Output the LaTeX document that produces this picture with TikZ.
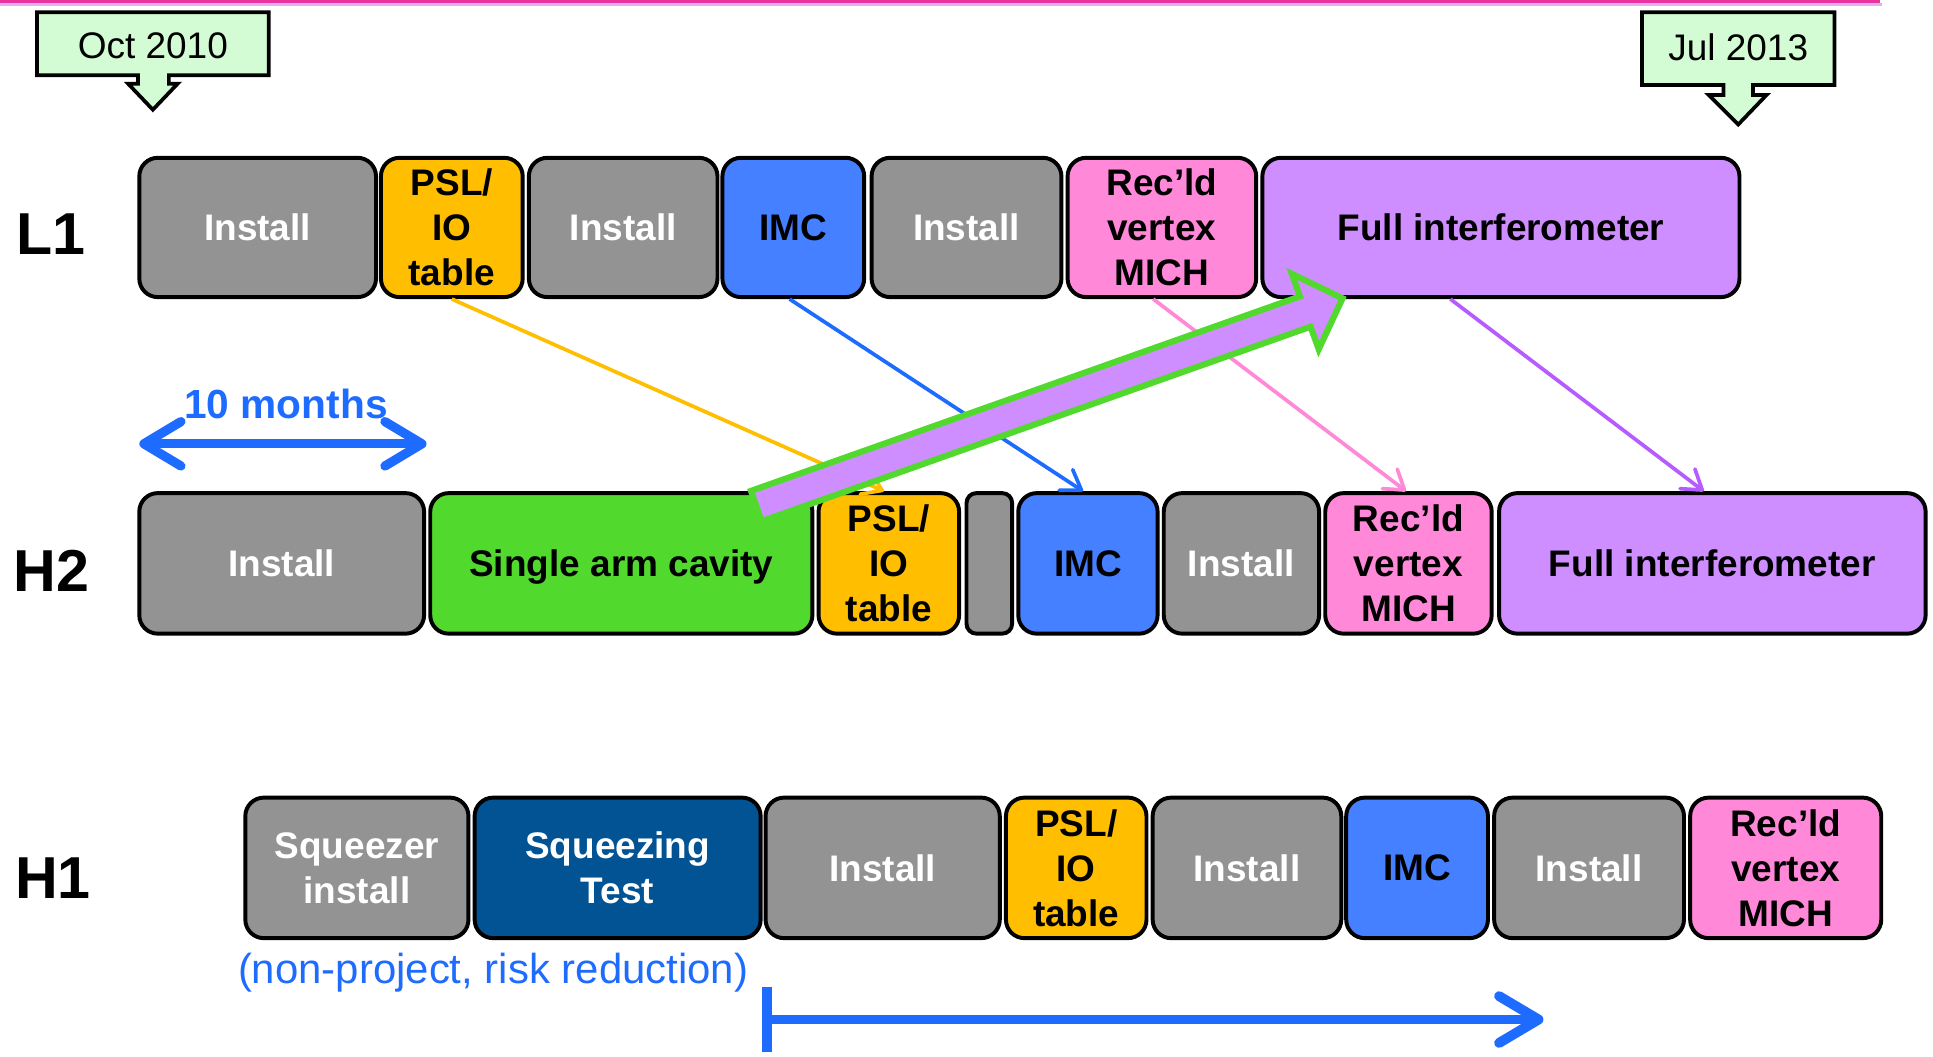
\documentclass[tikz,border=0pt]{standalone}
\usepackage{fontspec}
\setmainfont{Liberation Sans}
\usetikzlibrary{arrows.meta}
\definecolor{cgray}{RGB}{147,147,147}
\definecolor{cyel}{RGB}{255,190,0}
\definecolor{cblue}{RGB}{68,128,255}
\definecolor{cpink}{RGB}{255,136,216}
\definecolor{cpurp}{RGB}{207,142,255}
\definecolor{cgreen}{RGB}{82,217,46}
\definecolor{cdark}{RGB}{2,83,148}
\definecolor{ccall}{RGB}{212,252,212}
\definecolor{lblue}{RGB}{30,107,255}
\definecolor{lpurp}{RGB}{181,91,255}
\definecolor{magline}{RGB}{232,51,158}
\definecolor{lavline}{RGB}{224,176,240}
\newcommand{\bxfont}{\fontsize{30}{36.5}\selectfont\bfseries}
\newcommand{\rowfont}{\fontsize{48}{48}\selectfont\bfseries}
\newcommand{\calfont}{\fontsize{30}{36}\selectfont}
\begin{document}
\begin{tikzpicture}[x=1pt,y=-1pt,
  box/.style={draw=black, line width=3.2pt, rounded corners=15pt, inner sep=0pt, align=center, font=\bxfont},
  grey/.style={box, fill=cgray, text=white},
  yel/.style={box, fill=cyel},
  imc/.style={box, fill=cblue},
  pnk/.style={box, fill=cpink},
  prp/.style={box, fill=cpurp},
  callout/.style={draw=black, fill=ccall, line width=3pt},
  conn/.style={line width=3pt, -{Straight Barb[length=15pt,width=20pt,round]}},
  rowlab/.style={font=\rowfont}]
\useasboundingbox (0,0) rectangle (1568,857);
% header line
\fill[magline] (0,0) rectangle (1525,2.6);
\fill[lavline] (0,2.6) rectangle (1527,4.6);
% callouts
\draw[callout] (30,10) -- (218,10) -- (218,61) -- (137,61) -- (137,68) -- (144,68) -- (124,89) -- (104,68) -- (112,68) -- (112,61) -- (30,61) -- cycle;
\node[font=\calfont] (oct) at (124,37) {Oct 2010};
\draw[callout] (1332,10) -- (1488,10) -- (1488,69) -- (1422,69) -- (1422,77) -- (1433,77) -- (1410,101) -- (1386,77) -- (1398,77) -- (1398,69) -- (1332,69) -- cycle;
\node[font=\calfont] (jul) at (1410,38) {Jul 2013};
% row labels
\node[rowlab] (l1) at (41,190) {L1};
\node[rowlab] (h2) at (42,463) {H2};
\node[rowlab] (h1) at (43,712) {H1};
% L1 row
\node[grey, minimum width=192pt, minimum height=113pt] (a1) at (209,184.5) {Install};
\node[yel, minimum width=115pt, minimum height=113pt] (a2) at (366.5,184.5) {PSL/\\IO\\table};
\node[grey, minimum width=153pt, minimum height=113pt] (a3) at (505.5,184.5) {Install};
\node[imc, minimum width=115pt, minimum height=113pt] (a4) at (643.5,184.5) {IMC};
\node[grey, minimum width=154pt, minimum height=113pt] (a5) at (784,184.5) {Install};
\node[pnk, minimum width=153pt, minimum height=113pt] (a6) at (942.5,184.5) {Rec’ld\\vertex\\MICH};
\node[prp, minimum width=387pt, minimum height=113pt] (a7) at (1217.5,184.5) {Full interferometer};
% H2 row
\node[grey, minimum width=231pt, minimum height=114pt] (b1) at (228.5,457) {Install};
\node[box, fill=cgreen, text depth=0pt, minimum width=310pt, minimum height=114pt] (b2) at (504,457) {Single arm cavity};
\node[yel, minimum width=114pt, minimum height=114pt] (b3) at (721,457) {PSL/\\IO\\table};
\node[box, fill=cgray, rounded corners=8pt, minimum width=37pt, minimum height=114pt] (b4) at (802.5,457) {};
\node[imc, minimum width=113pt, minimum height=114pt] (b5) at (882.5,457) {IMC};
\node[grey, minimum width=126pt, minimum height=114pt] (b6) at (1007,457) {Install};
\node[pnk, minimum width=135pt, minimum height=114pt] (b7) at (1142.5,457) {Rec’ld\\vertex\\MICH};
\node[prp, minimum width=346pt, minimum height=114pt] (b8) at (1389,457) {Full interferometer};
% H1 row
\node[grey, minimum width=181pt, minimum height=114pt] (c1) at (289.5,704) {Squeezer\\install};
\node[box, fill=cdark, text=white, minimum width=232pt, minimum height=114pt] (c2) at (501,704) {Squeezing\\Test};
\node[grey, minimum width=190pt, minimum height=114pt] (c3) at (716,704) {Install};
\node[yel, minimum width=114pt, minimum height=114pt] (c4) at (873,704) {PSL/\\IO\\table};
\node[grey, minimum width=153pt, minimum height=114pt] (c5) at (1011.5,704) {Install};
\node[imc, minimum width=115pt, minimum height=114pt] (c6) at (1149.5,704) {IMC};
\node[grey, minimum width=154pt, minimum height=114pt] (c7) at (1289,704) {Install};
\node[pnk, minimum width=155pt, minimum height=114pt] (c8) at (1448.5,704) {Rec’ld\\vertex\\MICH};
% connectors
\draw[conn, cyel] (a2.south) -- ([xshift=-4pt]b3.north);
\draw[conn, lblue] ([xshift=-3pt]a4.south) -- ([xshift=-4pt]b5.north);
\draw[conn, cpink] ([xshift=-7pt]a6.south) -- ([xshift=-2pt]b7.north);
\draw[conn, lpurp] ([xshift=-41pt]a7.south) -- ([xshift=-7pt]b8.north);
% big block arrow
\draw[draw=cgreen, fill=cpurp, line width=5pt, miter limit=10] (609.2,398.2) -- (1054.5,240.4) -- (1047.9,222.1) -- (1089,242) -- (1069.7,283.3) -- (1063.1,265) -- (617.8,422.8) -- cycle;
% 10 months
\node[text=lblue, font=\fontsize{33}{36}\selectfont\bfseries] (tenm) at (232,328) {10 months};
\coordinate (tmL) at (113,360);
\coordinate (tmR) at (346,360);
\draw[lblue, line width=7.5pt, {Straight Barb[length=30pt,width=36pt,round]}-{Straight Barb[length=30pt,width=36pt,round]}] (tmL) -- (tmR);
% bottom
\node[text=lblue, font=\fontsize{34}{38}\selectfont] (nonp) at (400,789) {(non-project, risk reduction)};
\coordinate (bs) at (618,827);
\coordinate (be) at (1252,827);
\draw[lblue, line width=8pt, {Bar[width=52pt]}-{Straight Barb[length=32pt,width=38pt,round]}] (bs) -- (be);
\end{tikzpicture}
\end{document}
